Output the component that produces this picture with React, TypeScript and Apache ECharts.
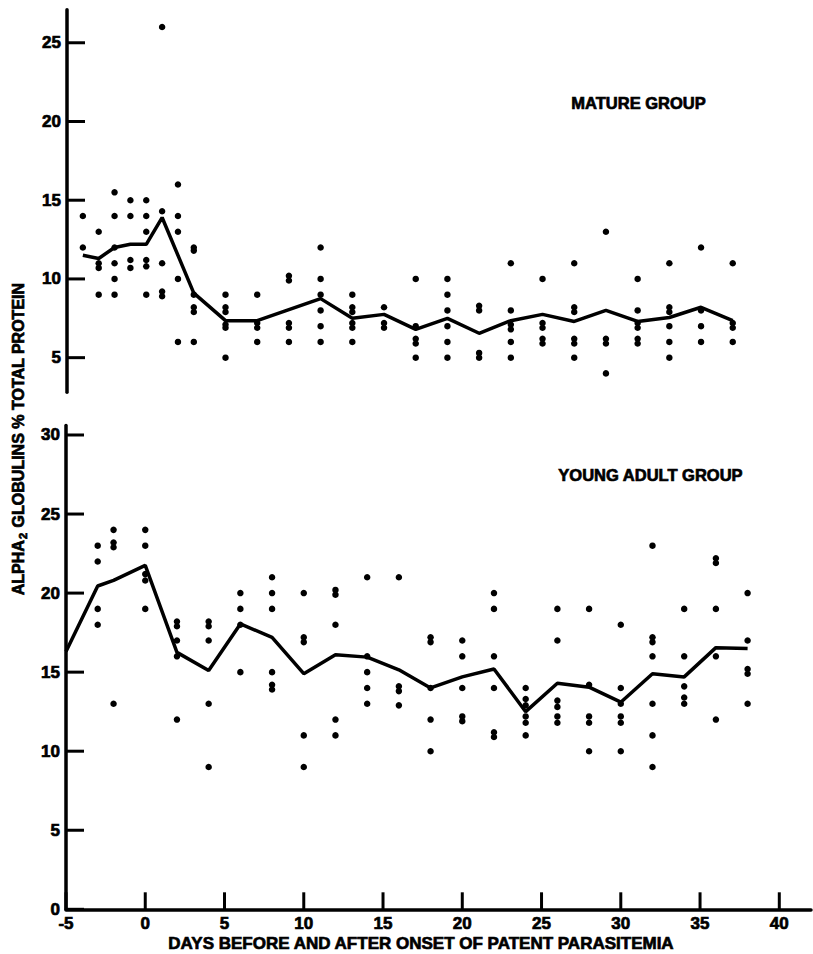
import React, { useEffect, useRef } from "react";
import * as echarts from "echarts";

// ---------- Data ----------
const xTicks = [-5, 0, 5, 10, 15, 20, 25, 30, 35, 40];
const matureYTicks = [5, 10, 15, 20, 25];
const youngYTicks = [0, 5, 10, 15, 20, 25, 30];

// Mature group: individual observations per day
const matureDays = [-4, -3, -2, -1, 0, 1, 2, 3, 5, 7, 9, 11, 13, 15, 17, 19, 21, 23, 25, 27, 29, 31, 33, 35, 37];
const matureValues = [
  [14, 12],
  [13, 11, 10.7, 9],
  [15.5, 14, 12, 11, 10, 9],
  [15, 14, 11.2, 10.7],
  [15, 14, 13, 11.2, 10.8, 9],
  [26, 14.3, 11, 9.2, 8.9],
  [16, 14, 13, 10, 6],
  [12, 11.8, 9, 8.2, 7.9, 6],
  [9, 8.2, 7.9, 7.1, 6.9, 5],
  [9, 7.2, 6.9, 6],
  [10.2, 9.9, 7.2, 6.9, 6],
  [12, 10, 9, 8, 7, 6],
  [9, 8.2, 7.9, 7.2, 6.9, 6],
  [8.2, 7.2, 6.9],
  [10, 7, 6.2, 5.9, 5],
  [10, 9, 8, 7, 6, 5],
  [8.3, 8, 5.3, 5],
  [11, 8, 7.1, 6.8, 6, 5],
  [10, 7.2, 6.9, 6.2, 5.9],
  [11, 8.2, 7.9, 6.2, 5.9, 5],
  [13, 6.2, 5.9, 4],
  [10, 8, 7.2, 6.9, 6.2, 5.9],
  [11, 8.2, 7.9, 7, 6, 5],
  [12, 8, 7, 6],
  [11, 7.2, 6.9, 6],
];
// Mature group: mean curve
const matureMeanDays = [-4, -3, -2, -1, 0, 1, 3, 5, 7, 9, 11, 13, 15, 17, 19, 21, 23, 25, 27, 29, 31, 33, 35, 37];
const matureMean = [11.5, 11.3, 12.0, 12.2, 12.2, 13.9, 9.1, 7.35, 7.35, 8.05, 8.75, 7.5, 7.75, 6.8, 7.5, 6.55, 7.35, 7.75, 7.3, 8.0, 7.3, 7.55, 8.2, 7.35];

// Young adult group: individual observations per day
const youngDays = [-3, -2, 0, 2, 4, 6, 8, 10, 12, 14, 16, 18, 20, 22, 24, 26, 28, 30, 32, 34, 36, 38];
const youngValues = [
  [23, 22, 19, 18],
  [24, 23.2, 22.9, 13],
  [24, 23, 21.2, 20.8, 19],
  [18.2, 17.9, 17, 16, 12],
  [18.2, 17.9, 17, 13, 9],
  [20, 19, 18, 15],
  [21, 20, 19, 15, 14.2, 13.9],
  [20, 17.2, 16.9, 11, 9],
  [20.2, 19.9, 18, 12, 11],
  [21, 16, 15, 14, 13],
  [21, 14.1, 13.8, 12.9],
  [17.2, 16.9, 14, 12, 10],
  [17, 16, 14, 12.2, 11.9],
  [20, 19, 16, 14, 11.2, 10.9],
  [14, 13.3, 12.9, 12.2, 11.8, 11],
  [19, 17, 13.2, 12.8, 12.2, 11.8],
  [19, 14.2, 12.2, 11.8, 10],
  [18, 14, 13, 12.2, 11.8, 10],
  [23, 17.2, 16.9, 16, 13, 11, 9],
  [19, 16, 14.1, 13.4, 13],
  [22.2, 21.9, 19, 16, 12],
  [20, 17, 15.2, 14.9, 13],
];
// Young adult group: mean curve
const youngMeanDays = [-5, -3, -2, 0, 2, 4, 6, 8, 10, 12, 14, 16, 18, 20, 22, 24, 26, 28, 30, 32, 34, 36, 38];
const youngMean = [16.3, 20.45, 20.8, 21.75, 16.25, 15.1, 18.05, 17.2, 14.9, 16.1, 15.95, 15.15, 14.0, 14.7, 15.2, 12.5, 14.3, 14.05, 13.1, 14.9, 14.7, 16.55, 16.5];

const xTitle = "DAYS BEFORE AND AFTER ONSET OF PATENT PARASITEMIA";
const matureLabel = "MATURE GROUP";
const youngLabel = "YOUNG ADULT GROUP";

// ---------- Helpers ----------
const FONT = "'Liberation Sans', Arial, Helvetica, sans-serif";
const X_MIN = -5;
const X_MAX = 42;
const HEAVY = { stroke: "#000", lineWidth: 0.7 };

function flatten(days: number[], vals: number[][]): number[][] {
  const out: number[][] = [];
  days.forEach((d, i) => vals[i].forEach((v) => out.push([d, v])));
  return out;
}
function pairs(days: number[], vals: number[]): number[][] {
  return days.map((d, i) => [d, vals[i]]);
}

// Tick + label drawn through the axis scale (api.coord)
function yTickSeries(gridIdx: number, ticks: number[]) {
  return {
    type: "custom",
    xAxisIndex: gridIdx,
    yAxisIndex: gridIdx,
    clip: false,
    silent: true,
    z: 5,
    data: ticks.map((v) => [X_MIN, v]),
    renderItem: (_p: any, api: any) => {
      const v = api.value(1);
      const pt = api.coord([X_MIN, v]);
      return {
        type: "group",
        children: [
          {
            type: "line",
            shape: { x1: pt[0], y1: pt[1], x2: pt[0] + 18, y2: pt[1] },
            style: { stroke: "#000", lineWidth: 3 },
          },
          {
            type: "text",
            style: {
              text: String(v),
              x: pt[0] - 6,
              y: pt[1],
              align: "right",
              verticalAlign: "middle",
              fill: "#000",
              font: `bold 17px ${FONT}`,
              ...HEAVY,
            },
          },
        ],
      };
    },
  };
}

function xTickSeries(gridIdx: number, ticks: number[], yAt: number) {
  return {
    type: "custom",
    xAxisIndex: gridIdx,
    yAxisIndex: gridIdx,
    clip: false,
    silent: true,
    z: 5,
    data: ticks.map((v) => [v, yAt]),
    renderItem: (_p: any, api: any) => {
      const v = api.value(0);
      const pt = api.coord([v, yAt]);
      return {
        type: "group",
        children: [
          {
            type: "line",
            shape: { x1: pt[0], y1: pt[1], x2: pt[0], y2: pt[1] - 17 },
            style: { stroke: "#000", lineWidth: 3 },
          },
          {
            type: "text",
            style: {
              text: String(v),
              x: pt[0],
              y: pt[1] + 6,
              align: "center",
              verticalAlign: "top",
              fill: "#000",
              font: `bold 17px ${FONT}`,
              ...HEAVY,
            },
          },
        ],
      };
    },
  };
}

export default function App() {
  const ref = useRef<HTMLDivElement>(null);

  useEffect(() => {
    if (!ref.current) return;
    const chart = echarts.init(ref.current, undefined, { renderer: "svg" });

    const axisLine = { show: true, onZero: false, lineStyle: { color: "#000", width: 3.5 } };
    const hidden = { axisTick: { show: false }, axisLabel: { show: false }, splitLine: { show: false } };

    const option: any = {
      animation: false,
      backgroundColor: "#fff",
      grid: [
        { left: 67, top: 9.7, width: 745, height: 382.6 },
        { left: 66, top: 425.5, width: 745, height: 483.8 },
      ],
      xAxis: [
        { type: "value", gridIndex: 0, min: X_MIN, max: X_MAX, show: false, ...hidden },
        { type: "value", gridIndex: 1, min: X_MIN, max: X_MAX, axisLine, ...hidden },
      ],
      yAxis: [
        { type: "value", gridIndex: 0, min: 2.8, max: 27.1, axisLine, ...hidden },
        { type: "value", gridIndex: 1, min: 0, max: 30.6, axisLine, ...hidden },
      ],
      series: [
        {
          type: "scatter",
          xAxisIndex: 0,
          yAxisIndex: 0,
          data: flatten(matureDays, matureValues),
          symbol: "circle",
          symbolSize: 6.5,
          itemStyle: { color: "#000", opacity: 1 },
        },
        {
          type: "line",
          xAxisIndex: 0,
          yAxisIndex: 0,
          data: pairs(matureMeanDays, matureMean),
          showSymbol: false,
          lineStyle: { color: "#000", width: 3.5 },
        },
        {
          type: "scatter",
          xAxisIndex: 1,
          yAxisIndex: 1,
          data: flatten(youngDays, youngValues),
          symbol: "circle",
          symbolSize: 6.5,
          itemStyle: { color: "#000", opacity: 1 },
        },
        {
          type: "line",
          xAxisIndex: 1,
          yAxisIndex: 1,
          data: pairs(youngMeanDays, youngMean),
          showSymbol: false,
          lineStyle: { color: "#000", width: 3.5 },
        },
        yTickSeries(0, matureYTicks),
        yTickSeries(1, youngYTicks),
        xTickSeries(1, xTicks, 0),
      ],
      graphic: [
        {
          type: "text",
          left: 571,
          top: 94,
          style: { text: matureLabel, fill: "#000", font: `bold 16.5px ${FONT}`, ...HEAVY },
        },
        {
          type: "text",
          left: 558,
          top: 466,
          style: { text: youngLabel, fill: "#000", font: `bold 16.5px ${FONT}`, ...HEAVY },
        },
        {
          type: "text",
          x: 421,
          y: 943,
          style: {
            text: xTitle,
            fill: "#000",
            font: `bold 17px ${FONT}`,
            align: "center",
            verticalAlign: "middle",
            ...HEAVY,
          },
        },
        {
          type: "text",
          x: 18,
          y: 439,
          rotation: Math.PI / 2,
          style: {
            text: "ALPHA{sub|2} GLOBULINS % TOTAL PROTEIN",
            fill: "#000",
            font: `bold 16px ${FONT}`,
            fontSize: 16,
            fontWeight: "bold",
            fontFamily: FONT,
            align: "center",
            verticalAlign: "middle",
            ...HEAVY,
            rich: {
              sub: {
                fontSize: 11,
                fontWeight: "bold",
                fontFamily: FONT,
                fill: "#000",
                verticalAlign: "bottom",
                padding: [9, 1, 0, 1],
                ...HEAVY,
              },
            },
          },
        },
      ],
    };

    chart.setOption(option);
    return () => chart.dispose();
  }, []);

  return (
    <div
      ref={ref}
      style={{ position: "fixed", left: 0, top: 0, width: 813, height: 954, background: "#fff" }}
    />
  );
}
